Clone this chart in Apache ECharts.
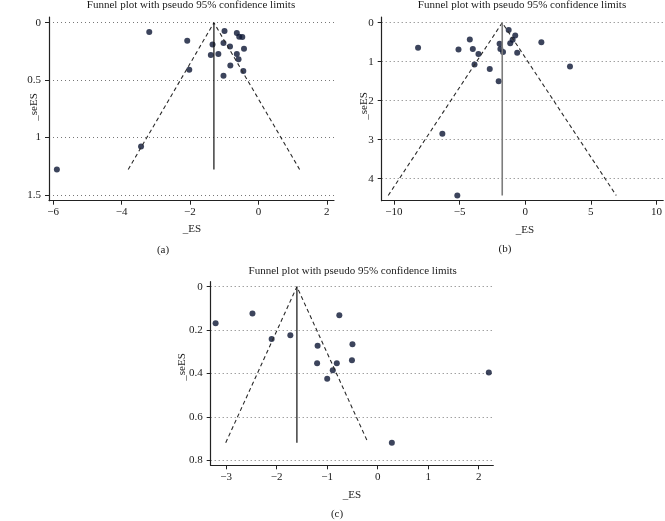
<!DOCTYPE html>
<html><head><meta charset="utf-8">
<script src="https://cdn.jsdelivr.net/npm/echarts@6/dist/echarts.min.js"></script>
<style>html,body{margin:0;padding:0;background:#fff}#c{width:665px;height:521px}</style>
</head><body><div id="c"></div>
<script>
// Panel (a)
const esA = [-3.19,-2.08,-2.02,-3.43,-5.89,-0.99,-0.63,-0.56,-0.47,-1.34,-1.02,-0.83,-0.42,-1.39,-1.17,-0.63,-0.58,-0.82,-0.44,-1.02];
const seA = [0.081,0.157,0.41,1.078,1.278,0.072,0.09,0.122,0.125,0.19,0.177,0.206,0.226,0.282,0.273,0.273,0.319,0.372,0.421,0.462];
const pooledA = -1.30;
// Panel (b)
const esB = [-8.16,-5.08,-4.22,-3.99,-3.56,-3.86,-2.70,-2.02,-1.95,-1.89,-1.69,-1.26,-0.76,-0.96,-1.14,-0.61,1.23,3.41,-6.31,-5.17];
const seB = [0.64,0.69,0.43,0.675,0.80,1.07,1.19,1.50,0.54,0.675,0.75,0.187,0.33,0.44,0.53,0.77,0.50,1.12,2.85,4.43];
const pooledB = -1.75;
// Panel (c)
const esC = [-3.21,-2.48,-2.10,-1.73,-0.76,-1.19,-1.20,-0.81,-0.89,-1.00,-0.50,-0.51,2.20,0.28];
const seC = [0.169,0.124,0.241,0.224,0.132,0.272,0.353,0.353,0.385,0.424,0.265,0.339,0.395,0.719];
const pooledC = -1.60;
// Tick labels
const xTicksA = [-6,-4,-2,0,2], yTicksA = [0,0.5,1,1.5];
const xTicksB = [-10,-5,0,5,10], yTicksB = [0,1,2,3,4];
const xTicksC = [-3,-2,-1,0,1,2], yTicksC = [0,0.2,0.4,0.6,0.8];
const titleText = 'Funnel plot with pseudo 95% confidence limits';
const captions = ['(a)','(b)','(c)'];

const FONT = '"Liberation Serif", "DejaVu Serif", serif';
const fmt = v => String(v).replace('-', '\u2212');

const panels = [
  {es: esA, se: seA, pooled: pooledA, xt: xTicksA, yt: yTicksA, grid:{left:49, top:17, width:285, height:183.7}, xr:[-6.12,2.21], yr:[-0.05,1.55], vcol:'#111', vw:1.2},
  {es: esB, se: seB, pooled: pooledB, xt: xTicksB, yt: yTicksB, grid:{left:381.7, top:17, width:283, height:183.7}, xr:[-10.93,10.51], yr:[-0.146,4.564], vcol:'#7d7d7d', vw:1.6},
  {es: esC, se: seC, pooled: pooledC, xt: xTicksC, yt: yTicksC, grid:{left:210.7, top:281.7, width:282.6, height:183.6}, xr:[-3.307,2.289], yr:[-0.023,0.823], vcol:'#111', vw:1.2}
];

const grids = [], xAxes = [], yAxes = [], series = [];
panels.forEach((p, i) => {
  grids.push(p.grid);
  xAxes.push({
    type:'value', gridIndex:i, min:p.xr[0], max:p.xr[1],
    axisLine:{show:true, onZero:false, lineStyle:{color:'#222', width:1.2}},
    axisTick:{show:true, length:4, customValues:p.xt, lineStyle:{color:'#222'}},
    axisLabel:{customValues:p.xt, formatter:fmt, fontFamily:FONT, fontSize:11, color:'#1a1a1a', margin:6},
    splitLine:{show:false}
  });
  yAxes.push({
    type:'value', gridIndex:i, inverse:true, min:p.yr[0], max:p.yr[1],
    axisLine:{show:true, onZero:false, lineStyle:{color:'#222', width:1.2}},
    axisTick:{show:true, length:4, customValues:p.yt, lineStyle:{color:'#222'}},
    axisLabel:{customValues:p.yt, formatter:fmt, fontFamily:FONT, fontSize:11, color:'#1a1a1a', margin:8},
    splitLine:{show:true, lineStyle:{color:'#777', width:1, type:[1,3]}}
  });
  const seMax = Math.max(...p.se);
  const half = 1.96 * seMax;
  series.push({
    type:'line', xAxisIndex:i, yAxisIndex:i, symbol:'none', silent:true,
    data:[[p.pooled - half, seMax],[p.pooled, 0],[p.pooled + half, seMax]],
    lineStyle:{color:'#2a2a2a', width:1.1, type:[4,3]}
  });
  series.push({
    type:'line', xAxisIndex:i, yAxisIndex:i, symbol:'none', silent:true,
    data:[[p.pooled, 0],[p.pooled, seMax]],
    lineStyle:{color:p.vcol, width:p.vw}
  });
  series.push({
    type:'scatter', xAxisIndex:i, yAxisIndex:i, symbolSize:6,
    itemStyle:{color:'#0b1533'},
    data:p.es.map((x, k) => [x, p.se[k]])
  });
});

const txt = (x, y, text, size, rot) => ({
  type:'text', x:x, y:y, rotation: rot || 0,
  style:{text:text, font:`${size}px ${FONT}`, fill:'#1a1a1a', align:'center', verticalAlign:'middle'}
});

const graphic = [
  txt(191, 5, titleText, 11),
  txt(522, 5, titleText, 11),
  txt(352.7, 271, titleText, 11),
  txt(34, 107, '_seES', 11, Math.PI/2),
  txt(364.5, 106, '_seES', 11, Math.PI/2),
  txt(182, 367, '_seES', 11, Math.PI/2),
  txt(192, 229, '_ES', 11),
  txt(525, 230, '_ES', 11),
  txt(352, 495, '_ES', 11),
  txt(163, 250, captions[0], 11),
  txt(505, 249.5, captions[1], 11),
  txt(337, 514, captions[2], 11)
];

const chart = echarts.init(document.getElementById('c'), null, {renderer:'canvas'});
chart.setOption({
  animation:false,
  backgroundColor:'#fff',
  grid:grids, xAxis:xAxes, yAxis:yAxes, series:series, graphic:graphic
});
</script></body></html>
